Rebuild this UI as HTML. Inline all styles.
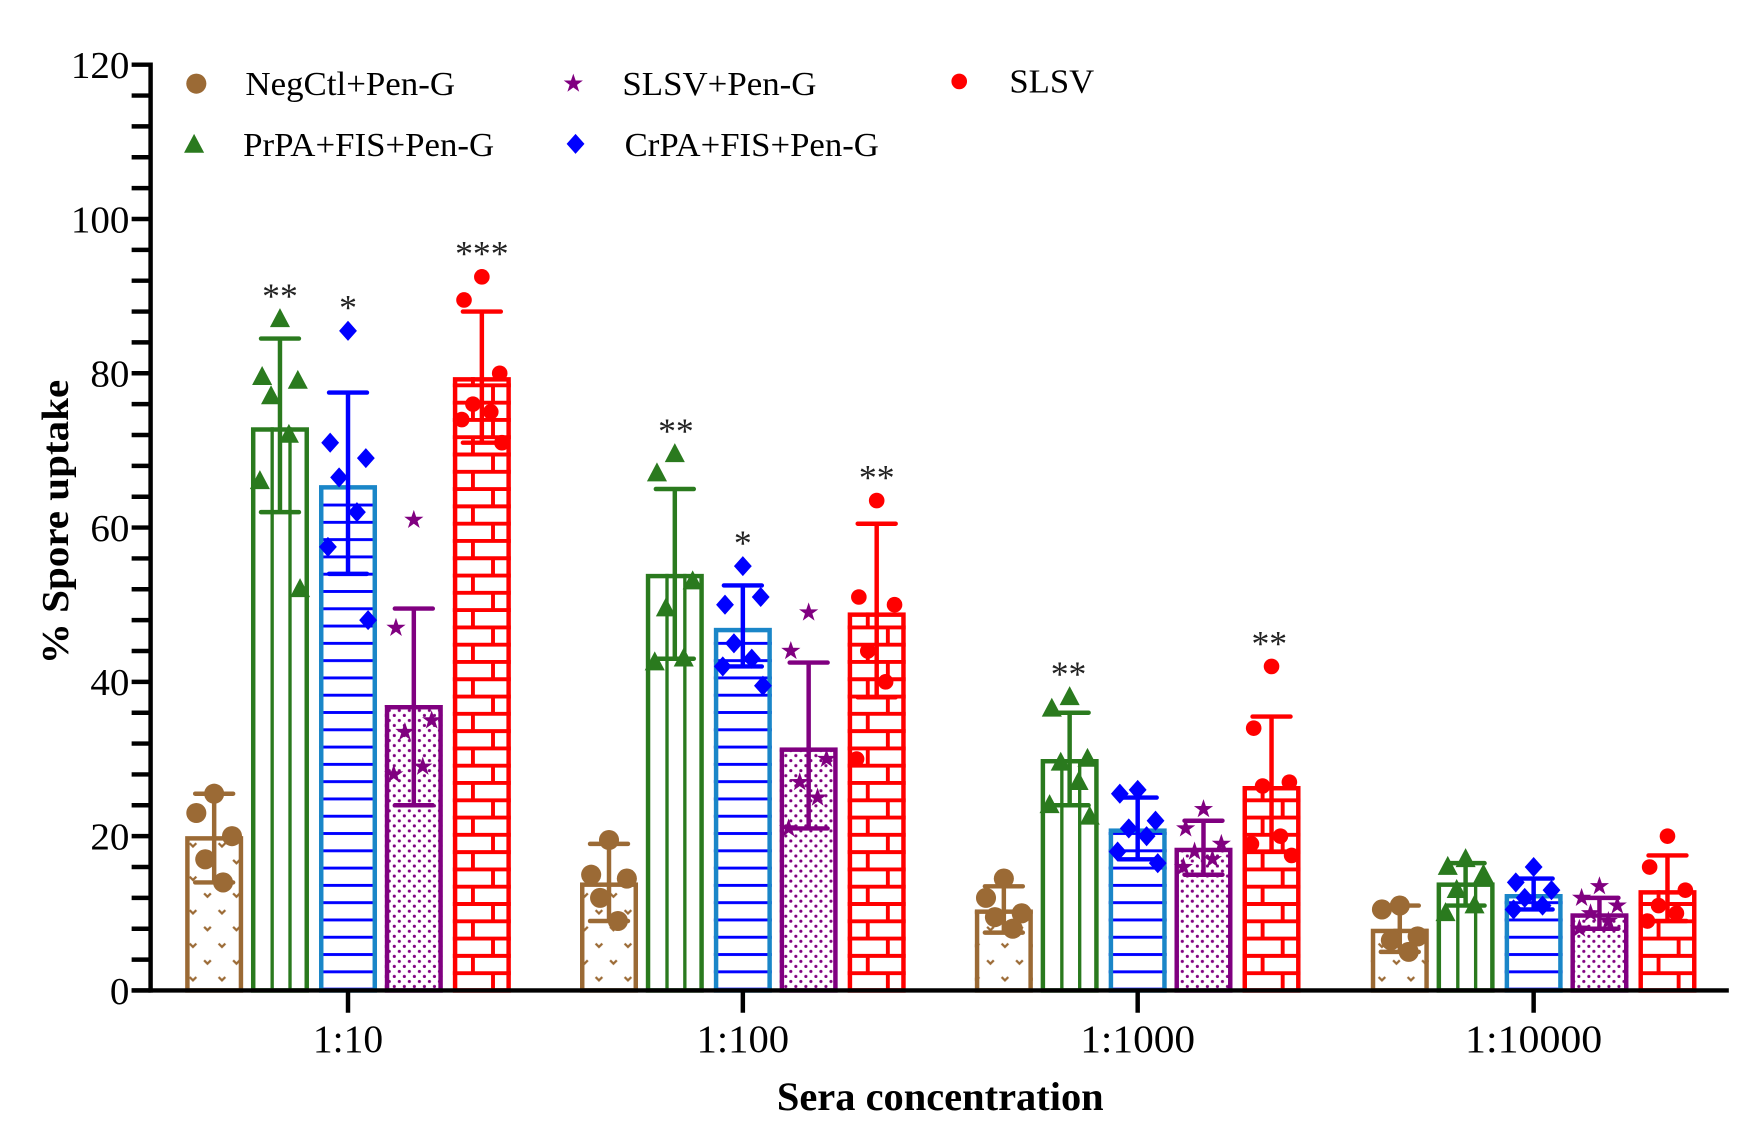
<!DOCTYPE html>
<html><head><meta charset="utf-8"><style>
html,body{margin:0;padding:0;background:#fff}
svg{display:block}
text{font-family:"Liberation Serif",serif}
</style></head><body>
<svg id="c" width="1740" height="1137" viewBox="0 0 1560 1019.4" xmlns="http://www.w3.org/2000/svg">
<defs>
<pattern id="pBrown" patternUnits="userSpaceOnUse" width="26" height="30" x="166" y="0">
<path d="M4 6 l3 3 l3 -3 M17 21 l3 3 l3 -3" stroke="#9b6a35" stroke-width="2" fill="none"/>
</pattern>
<pattern id="pBlue" patternUnits="userSpaceOnUse" width="10" height="15.5" y="2">
<rect x="0" y="0" width="10" height="2.6" fill="#0000ff"/>
</pattern>
<pattern id="pDots" patternUnits="userSpaceOnUse" width="9" height="9">
<circle cx="2.5" cy="2.5" r="1.4" fill="#800080"/><circle cx="7" cy="7" r="1.4" fill="#800080"/>
</pattern>
</defs>
<g id="g"></g>
</svg>
<script>
const NS="http://www.w3.org/2000/svg";
const g=document.getElementById('g');
function el(t,a,txt){const e=document.createElementNS(NS,t);for(const k in a)e.setAttribute(k,a[k]);if(txt!==undefined)e.textContent=txt;g.appendChild(e);return e;}
const Y0=888,S=(888-58)/120;
const y=v=>Y0-v*S;
const colors=['#9b6a35','#2a7a1e','#0000ff','#800080','#ff0000'];
const centers=[312,666,1020,1375];
const offs=[-120,-61,0,59,120];
const W=52;
const data=[
[[20,14,25.5,[25.5,23,20,17,14]],[73,62,84.5,[87,79.5,79,77,72,66,52]],[65.5,54,77.5,[85.5,71,69,66.5,62,57.5,48]],[37,24,49.5,[61,47,35,33.5,29,28]],[79.5,71,88,[92.5,89.5,80,76,75,74,71]]],
[[14,9,19,[19.5,15,14.5,12,9]],[54,43,65,[69.5,67,53,49.5,43,42.5]],[47,42,52.5,[55,50,51,45,43,42,39.5]],[31.5,21,42.5,[49,44,30,27,25,21]],[49,38,60.5,[63.5,51,50,44,40,30]]],
[[10.5,7.5,13.5,[14.5,12,10,9.5,8]],[30,24,36,[38,36.5,30,29.5,27,24,22.5]],[21,17,25,[26,25.5,22,21,20,18,16.5]],[18.5,15,22,[23.5,21,19,18,17,16]],[26.5,18,35.5,[42,34,27,26.5,20,19,17.5]]],
[[8,5,11,[11,10.5,7,6.5,5]],[14,11,16.5,[17,16,15,13,11,10]],[12.5,10.5,14.5,[16,14,13,12,11,10.5]],[10,8,12,[13.5,12,11,10,9,8]],[13,9,17.5,[20,16,13,11,10,9]]]
];
const jit=[0,-16,16,-8,8,-18,18];
function marker(s,cx,cy){
 const c=colors[s];
 if(s==0||s==4) el('circle',{cx,cy,r:s==0?9:7,fill:c});
 else if(s==1) el('polygon',{points:`${cx},${cy-10} ${cx+9},${cy+7} ${cx-9},${cy+7}`,fill:c});
 else if(s==2) el('polygon',{points:`${cx},${cy-9} ${cx+8},${cy} ${cx},${cy+9} ${cx-8},${cy}`,fill:c});
 else {let p=[];for(let i=0;i<10;i++){const r=i%2?3.5:9,a=-Math.PI/2+i*Math.PI/5;p.push((cx+r*Math.cos(a)).toFixed(1)+','+(cy+r*Math.sin(a)).toFixed(1));}el('polygon',{points:p.join(' '),fill:c});}
}
data.forEach((grp,gi)=>{
 grp.forEach((d,s)=>{
  const cx=centers[gi]+offs[s],x=cx-W/2,top=y(d[0]),h=Y0-top,c=colors[s];
  if(s==0) el('rect',{x,y:top,width:W,height:h,fill:'url(#pBrown)'});
  if(s==2) el('rect',{x,y:top,width:W,height:h,fill:'url(#pBlue)'});
  if(s==3) el('rect',{x,y:top,width:W,height:h,fill:'url(#pDots)'});
  if(s==1){[x+19,x+35].forEach(lx=>el('line',{x1:lx,x2:lx,y1:top,y2:Y0,stroke:c,'stroke-width':3}));}
  if(s==4){
   const rh=15.5;let row=0;
   for(let yy=Y0-rh;yy>top;yy-=rh,row++){el('line',{x1:x,x2:x+W,y1:yy,y2:yy,stroke:c,'stroke-width':3.5});}
   row=0;
   for(let yy=Y0;yy>top;yy-=rh,row++){const yt=Math.max(top,yy-rh);const bx=row%2?x+18:x+36;el('line',{x1:bx,x2:bx,y1:yt,y2:yy,stroke:c,'stroke-width':3.5});}
  }
  el('rect',{x:x+2,y:top+2,width:W-4,height:h-2,fill:'none',stroke:s==2?'#1a86c8':c,'stroke-width':4});
  el('line',{x1:cx,x2:cx,y1:y(d[2]),y2:y(d[1]),stroke:c,'stroke-width':4});
  [d[1],d[2]].forEach(v=>el('line',{x1:cx-17,x2:cx+17,y1:y(v),y2:y(v),stroke:c,'stroke-width':4,'stroke-linecap':'round'}));
  d[3].forEach((v,i)=>marker(s,cx+jit[i%7],y(v)));
 });
});
[[251,87,'**'],[312,85.5,'*'],[432,92.5,'***'],[606,69.5,'**'],[666,55,'*'],[786,63.5,'**'],[958,38,'**'],[1138,42,'**']].forEach(a=>el('text',{x:a[0],y:y(a[1])-10,'text-anchor':'middle','font-size':32,fill:'#222'},a[2]));
el('line',{x1:135,x2:135,y1:56,y2:890,stroke:'#000','stroke-width':4});
el('line',{x1:118,x2:1550,y1:888,y2:888,stroke:'#000','stroke-width':4});
for(let v=0;v<=120;v+=4){el('line',{x1:118,x2:135,y1:y(v),y2:y(v),stroke:'#000','stroke-width':4});}
for(let v=0;v<=120;v+=20){const t=String(v);el('text',{x:116,y:y(v)+12,'text-anchor':'end','font-size':34,textLength:t.length*17.5,lengthAdjust:'spacingAndGlyphs'},t);}
['1:10','1:100','1:1000','1:10000'].forEach((t,i)=>{el('line',{x1:centers[i],x2:centers[i],y1:888,y2:908,stroke:'#000','stroke-width':4});el('text',{x:centers[i],y:943,'text-anchor':'middle','font-size':35,textLength:[63,83,103,123][i],lengthAdjust:'spacingAndGlyphs'},t);});
el('text',{x:843,y:995,'text-anchor':'middle','font-size':36,'font-weight':'bold',textLength:293,lengthAdjust:'spacingAndGlyphs'},'Sera concentration');
el('text',{x:0,y:0,'text-anchor':'middle','font-size':34,'font-weight':'bold',textLength:255,lengthAdjust:'spacingAndGlyphs',transform:'translate(61,468) rotate(-90)'},'% Spore uptake');
function lt(x,yy,t,w){el('text',{x,y:yy,'font-size':30,textLength:w,lengthAdjust:'spacingAndGlyphs'},t);}
marker(0,176,75);lt(220,85,'NegCtl+Pen-G',188);
marker(1,174,130);lt(218,140,'PrPA+FIS+Pen-G',225);
marker(3,514,75);lt(558,85,'SLSV+Pen-G',174);
marker(2,516,129);lt(560,140,'CrPA+FIS+Pen-G',228);
marker(4,860,73);lt(905,83,'SLSV',76);
</script>
</body></html>
